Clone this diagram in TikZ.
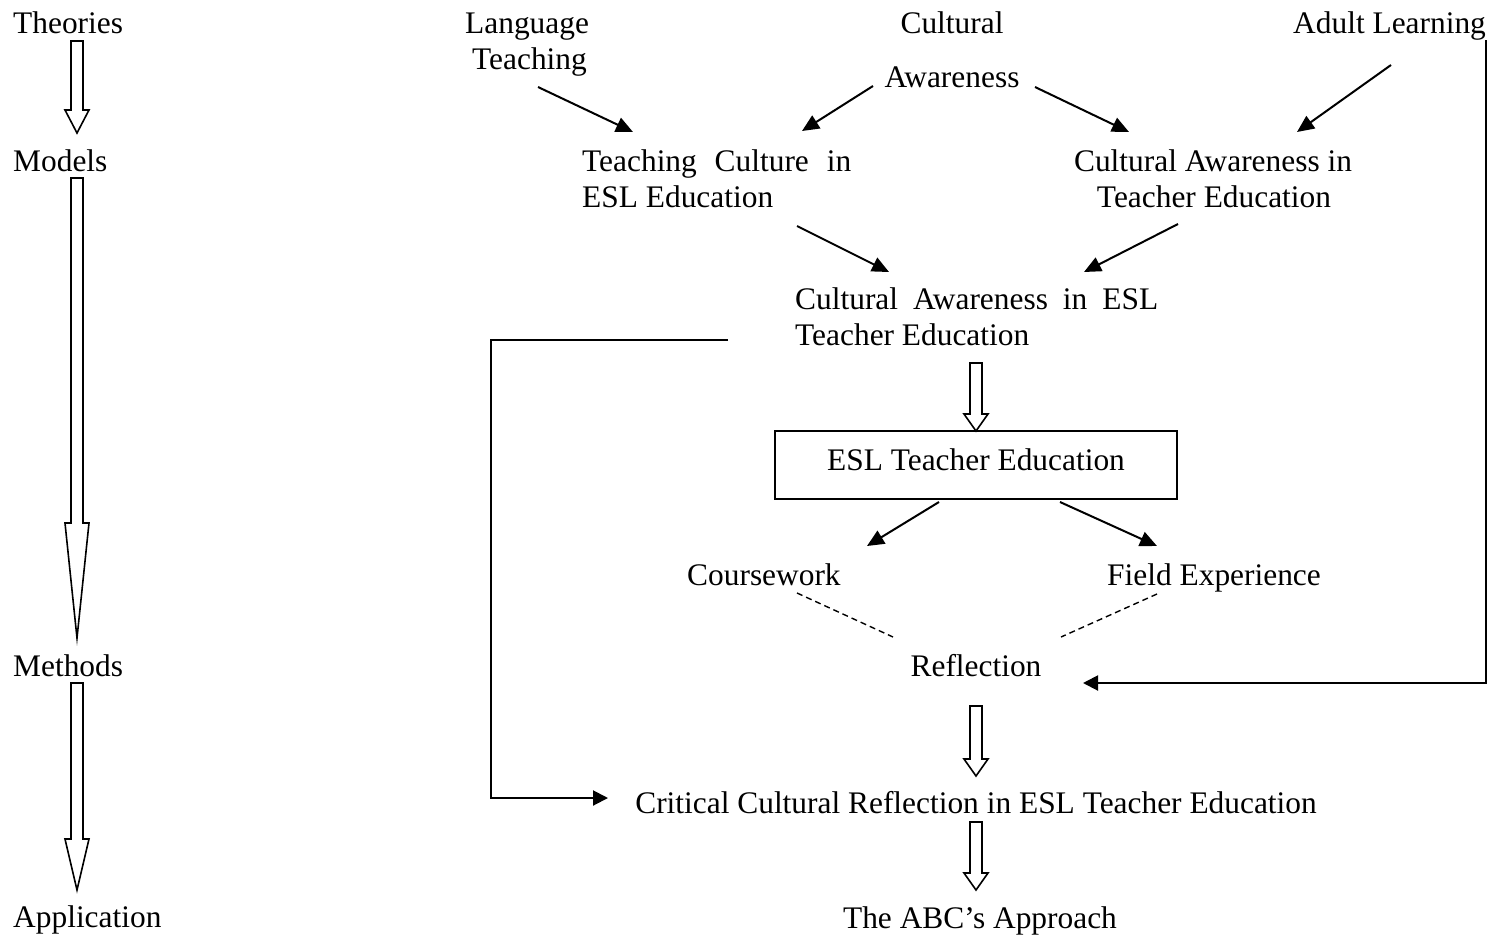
\documentclass[tikz,border=0pt]{standalone}
\usepackage{fontspec}
\setmainfont{Liberation Serif}
\usetikzlibrary{arrows.meta}
\newcommand\HollowDown[5]{% name, x, top, headstart, tip
  \draw[hollow] (#2-6,#3) -- (#2+6,#3) -- (#2+6,#4) -- (#2+12,#4) -- (#2,#5)
    -- (#2-12,#4) -- (#2-6,#4) -- cycle;
  \coordinate (#1) at (#2,#5);}
\begin{document}
\begin{tikzpicture}[x=1pt,y=-1pt,
  every node/.style={inner sep=0pt, font=\fontsize{31.4}{36}\selectfont},
  lbl/.style={anchor=base west},
  clbl/.style={anchor=base},
  hollow/.style={draw=black, line width=1.6pt, fill=white, line join=miter},
  conn/.style={line width=2pt, -{Triangle[length=17pt,width=15pt]}},
  elbow/.style={line width=2pt, -{Triangle[length=15pt,width=15pt]}},
  dashconn/.style={line width=1.4pt, dash pattern=on 6pt off 4pt},
  boxstyle/.style={draw, line width=1.5pt, minimum width=402pt, minimum height=68pt, anchor=center}]
\useasboundingbox (0,0) rectangle (1494,938);

% left column
\node[lbl] (theories) at (13,33) {Theories};
\node[lbl] (models) at (13,171) {Models};
\node[lbl] (methods) at (13,676) {Methods};
\node[lbl] (application) at (13,927) {Application};
\HollowDown{h1}{77}{41}{110}{133}
\HollowDown{h2}{77}{178}{523}{638}
\HollowDown{h3}{77}{683}{839}{890}

% top row
\node[lbl] (lang1) at (465,33) {Language};
\node[lbl] (lang2) at (472,69) {Teaching};
\node[clbl] (cult1) at (952,33) {Cultural};
\node[clbl] (cult2) at (952,87) {Awareness};
\node[lbl] (adult) at (1293,33) {Adult Learning};

% second row
\node[lbl] (tc1) at (582,171) {\makebox[269pt][s]{Teaching Culture in}};
\node[lbl] (tc2) at (582,207) {ESL Education};
\node[clbl] (ca1) at (1213,171) {Cultural Awareness in};
\node[clbl] (ca2) at (1214,207) {Teacher Education};

% third row
\node[lbl] (cae1) at (795,309) {\makebox[363pt][s]{Cultural Awareness in ESL}};
\node[lbl] (cae2) at (795,345) {Teacher Education};

\node[boxstyle] (box) at (976,465) {\raisebox{10pt}{ESL Teacher Education}};

\node[lbl] (course) at (687,585) {Coursework};
\node[lbl] (field) at (1107,585) {Field Experience};
\node[clbl] (refl) at (976,676) {Reflection};
\node[clbl] (crit) at (976,813) {Critical Cultural Reflection in ESL Teacher Education};
\node[clbl] (abc) at (980,928) {The ABC’s Approach};

% hollow arrows in the middle
\HollowDown{hA}{976}{363}{414}{431}
\HollowDown{hB}{976}{706}{759}{776}
\HollowDown{hC}{976}{822}{873}{890}

% connector end points
\coordinate (a1s) at (538,87);  \coordinate (a1e) at (633,132);
\coordinate (a2s) at (873,86);  \coordinate (a2e) at (802,131);
\coordinate (a3s) at (1035,87); \coordinate (a3e) at (1129,132);
\coordinate (a4s) at (1391,65); \coordinate (a4e) at (1297,132);
\coordinate (a5s) at (797,226); \coordinate (a5e) at (889,272);
\coordinate (a6s) at (1178,224);\coordinate (a6e) at (1084,272);
\coordinate (a7s) at (939,502); \coordinate (a7e) at (867,546);
\coordinate (a8s) at (1060,502);\coordinate (a8e) at (1157,546);
\coordinate (d1s) at (797,593); \coordinate (d1e) at (893,637);
\coordinate (d2s) at (1157,594);\coordinate (d2e) at (1061,637);
\coordinate (rs) at (1486,40);  \coordinate (rc) at (1486,683); \coordinate (re) at (1083,683);
\coordinate (ls) at (728,340);  \coordinate (lc) at (491,798);  \coordinate (le) at (608,798);

\draw[conn] (a1s) -- (a1e);
\draw[conn] (a2s) -- (a2e);
\draw[conn] (a3s) -- (a3e);
\draw[conn] (a4s) -- (a4e);
\draw[conn] (a5s) -- (a5e);
\draw[conn] (a6s) -- (a6e);
\draw[conn] (a7s) -- (a7e);
\draw[conn] (a8s) -- (a8e);
\draw[dashconn] (d1s) -- (d1e);
\draw[dashconn] (d2s) -- (d2e);
\draw[elbow] (rs) -- (rc) -- (re);
\draw[elbow] (ls) -| (lc) -- (le);
\end{tikzpicture}
\end{document}
